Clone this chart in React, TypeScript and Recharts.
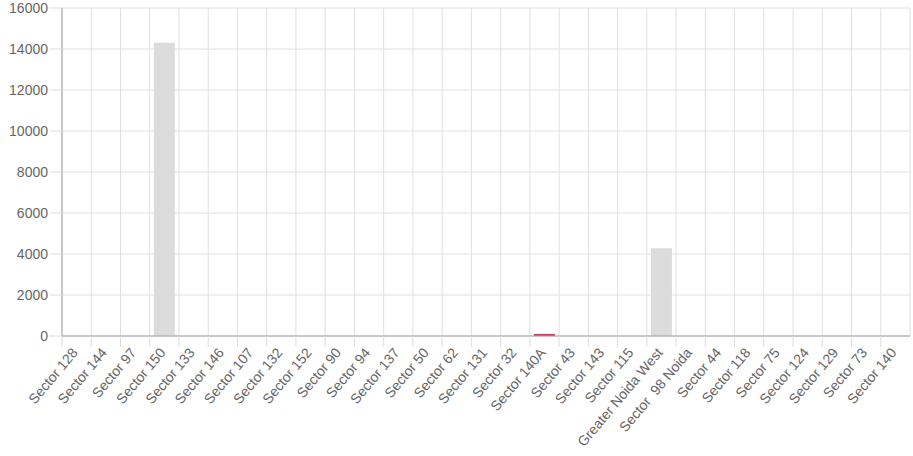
import { BarChart, Bar, XAxis, YAxis, CartesianGrid, Cell } from 'recharts';

const sectors = [
  'Sector 128', 'Sector 144', 'Sector 97', 'Sector 150', 'Sector 133', 'Sector 146',
  'Sector 107', 'Sector 132', 'Sector 152', 'Sector 90', 'Sector 94', 'Sector 137',
  'Sector 50', 'Sector 62', 'Sector 131', 'Sector 32', 'Sector 140A', 'Sector 43',
  'Sector 143', 'Sector 115', 'Greater Noida West', 'Sector  98 Noida', 'Sector 44',
  'Sector 118', 'Sector 75', 'Sector 124', 'Sector 129', 'Sector 73', 'Sector 140',
];
const counts = [
  0, 0, 0, 14300, 0, 0, 0, 0, 0, 0, 0, 0, 0, 0, 0, 0, 100, 0, 0, 0, 4280, 0, 0, 0, 0, 0, 0, 0, 0,
];
const highlighted = 'Sector 140A';
const yTicks = [0, 2000, 4000, 6000, 8000, 10000, 12000, 14000, 16000];

const data = sectors.map((name, i) => ({ name, value: counts[i] }));

const FONT = '"Liberation Sans", Arial, Helvetica, sans-serif';

function XTick(props: any) {
  const { x, y, payload } = props;
  const half = payload && payload.offset ? payload.offset : 14.6;
  const ax = x + 2;
  const ay = y + 7;
  return (
    <g>
      <line x1={x - half} y1={y - 10} x2={x - half} y2={y + 1} stroke="#dddddd" />
      <text
        x={ax}
        y={ay}
        transform={`rotate(-50, ${ax}, ${ay})`}
        textAnchor="end"
        fill="#666"
        fontSize={14}
        fontFamily={FONT}
        style={{ whiteSpace: 'pre' }}
      >
        {payload.value}
      </text>
    </g>
  );
}

export default function App() {
  return (
    <div style={{ position: 'absolute', left: 0, top: 0, background: '#fff' }}>
      <BarChart
        width={913}
        height={456}
        data={data}
        margin={{ top: 8, right: 3, left: 0, bottom: 0 }}
        barCategoryGap="14%"
      >
        <CartesianGrid
          stroke="#e0e0e0"
          verticalCoordinatesGenerator={({ offset }: any) =>
            sectors.map((_, i) => offset.left + (i * offset.width) / sectors.length).concat(offset.left + offset.width)
          }
        />
        <XAxis
          dataKey="name"
          interval={0}
          height={120}
          tickLine={false}
          tickSize={10}
          tickMargin={0}
          tick={<XTick />}
          axisLine={{ stroke: '#a0a0a0' }}
        />
        <YAxis
          width={62}
          domain={[0, 16000]}
          ticks={yTicks}
          interval={0}
          tickSize={12}
          tickMargin={2}
          tickLine={{ stroke: '#dddddd' }}
          axisLine={{ stroke: '#a0a0a0' }}
          tick={{ fill: '#666', fontSize: 14, fontFamily: FONT }}
        />
        <Bar dataKey="value" isAnimationActive={false}>
          {data.map((d) => (
            <Cell key={d.name} fill={d.name === highlighted ? '#e5335f' : '#dcdcdc'} />
          ))}
        </Bar>
      </BarChart>
    </div>
  );
}
